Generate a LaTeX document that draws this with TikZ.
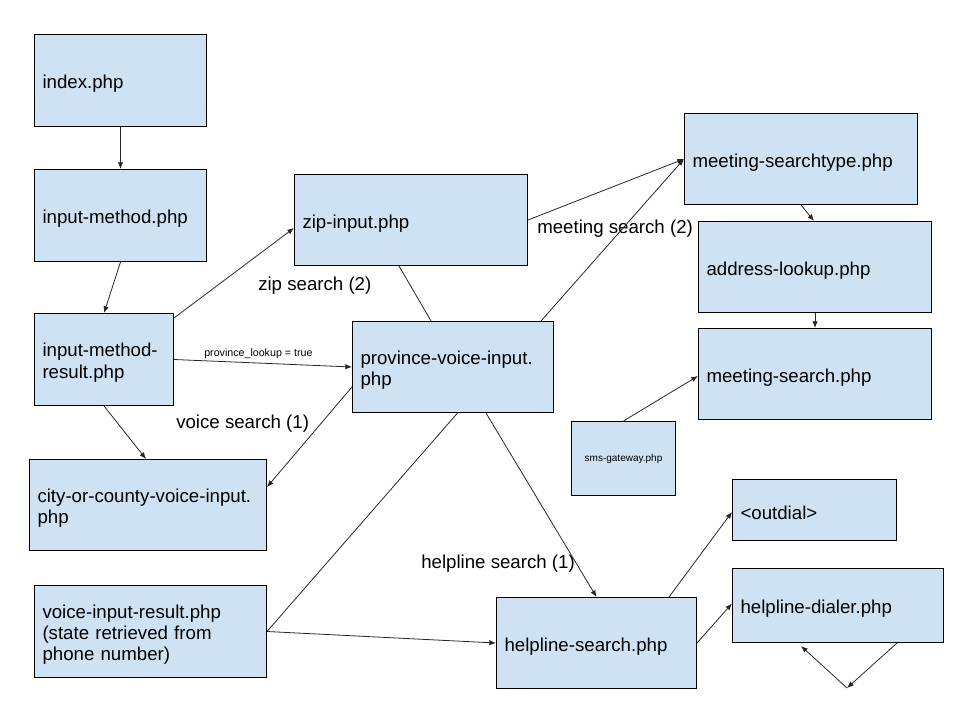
\documentclass[tikz,border=0pt]{standalone}
\usepackage{fontspec}
\setmainfont{Liberation Sans}
\usetikzlibrary{arrows.meta,calc}
\definecolor{boxblue}{HTML}{CFE2F3}
\begin{document}
\begin{tikzpicture}[x=0.75pt,y=-0.75pt,
  plainbox/.style={draw=black, fill=boxblue, line width=0.75pt, anchor=north west,
    inner xsep=6pt, inner ysep=0pt, align=left, font=\fontsize{14pt}{16pt}\selectfont},
  box/.style={plainbox, execute at begin node={\rule{0pt}{15pt}}},
  lbl/.style={anchor=west, inner sep=0pt, font=\fontsize{14pt}{16pt}\selectfont},
  conn/.style={line width=0.6pt, draw=black!85},
  arr/.style={conn, -{Latex[length=5pt,width=4pt]}}]
\useasboundingbox (0,0) rectangle (960,720);

\node[box, minimum width=129pt, minimum height=69pt, text width=117pt] (idx) at (34,34) {index.php};
\node[box, minimum width=129pt, minimum height=69pt, text width=117pt] (im) at (34,169) {input-method.php};
\node[box, minimum width=104.25pt, minimum height=69pt, text width=92.25pt] (imr) at (34,313) {input-method-\\result.php};
\node[box, minimum width=177.75pt, minimum height=68.25pt, text width=165.75pt] (city) at (29,459) {city-or-county-voice-input.\\php};
\node[box, minimum width=174pt, minimum height=69pt, text width=162pt] (vir) at (34,585) {voice-input-result.php\\(state retrieved from\\phone number)};
\node[box, minimum width=174.75pt, minimum height=68.25pt, text width=162.75pt] (zip) at (294,174) {zip-input.php};
\node[box, minimum width=150.75pt, minimum height=68.25pt, text width=138.75pt] (prov) at (352,321) {province-voice-input.\\php};
\node[box, minimum width=174.75pt, minimum height=68.25pt, text width=162.75pt] (mst) at (684,113) {meeting-searchtype.php};
\node[box, minimum width=174.75pt, minimum height=68.25pt, text width=162.75pt] (addr) at (698,221) {address-lookup.php};
\node[box, minimum width=174.75pt, minimum height=68.25pt, text width=162.75pt] (ms) at (698,328) {meeting-search.php};
\node[plainbox, minimum width=78pt, minimum height=55.5pt, text width=66pt, align=center, font=\fontsize{7.5pt}{9pt}\selectfont] (sms) at (571,421) {sms-gateway.php};
\node[box, minimum width=123pt, minimum height=45.75pt, text width=111pt] (out) at (732,479) {<outdial>};
\node[box, minimum width=158.25pt, minimum height=55.5pt, text width=146.25pt] (hd) at (732,568) {helpline-dialer.php};
\node[box, minimum width=150pt, minimum height=68.25pt, text width=138pt] (hs) at (496,597) {helpline-search.php};

\node[lbl] (lzip) at (258,286) {zip search (2)};
\node[lbl] (lmeet) at (537,229) {meeting search (2)};
\node[lbl] (lvoice) at (176,424) {voice search (1)};
\node[lbl] (lhelp) at (421,564) {helpline search (1)};
\node[lbl, font=\fontsize{8pt}{9pt}\selectfont] (lprov) at (204,354) {province\_lookup = true};

\coordinate (loop) at (847,688);

\draw[arr] (idx.south) -- (im.north);
\draw[arr] (im.south) -- (imr.north);
\draw[arr] ($(imr.north east)+(0,5)$) -- ($(zip.west)+(0,8)$);
\draw[arr] (imr.east) -- (prov.west);
\draw[arr] (imr.south) -- ($(city.north)+(-2,0)$);
\draw[arr] ($(prov.west)+(0,20)$) -- ($(city.north east)+(0,28)$);
\draw[conn] ($(zip.south)+(-12,0)$) -- ($(prov.north)+(-22,0)$);
\draw[arr] ($(prov.north east)+(-13,0)$) -- (mst.west);
\draw[arr] (zip.east) -- (mst.west);
\draw[arr] (mst.south) -- ($(addr.north)+(-1,0)$);
\draw[arr] (addr.south) -- (ms.north);
\draw[arr] (sms.north) -- ($(ms.west)+(0,2)$);
\draw[arr] ($(prov.south)+(33,0)$) -- (hs.north);
\draw[conn] (vir.east) -- ($(prov.south)+(4.5,0)$);
\draw[arr] (vir.east) -- (hs.west);
\draw[arr] ($(hs.north east)+(-28,0)$) -- ($(out.west)+(0,2)$);
\draw[arr] (hs.east) -- ($(hd.west)+(0,-2)$);
\draw[arr] ($(hd.south east)+(-47,0)$) -- (loop);
\draw[arr] (loop) -- ($(hd.south)+(-37,3)$);
\end{tikzpicture}
\end{document}
